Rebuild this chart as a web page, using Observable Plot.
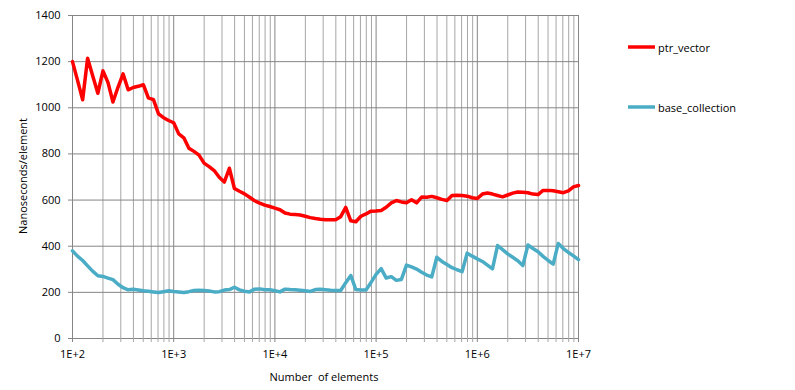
<!DOCTYPE html>
<html>
<head>
<meta charset="utf-8">
<script src="https://cdn.jsdelivr.net/npm/d3@7"></script>
<script src="https://cdn.jsdelivr.net/npm/@observablehq/plot@0.6"></script>
<style>
  html, body { margin: 0; padding: 0; background: #fff; }
  #chart { width: 795px; height: 390px; }
</style>
</head>
<body>
<div id="chart"></div>
<script>
// Number of elements (x values, log spaced)
const sizes = [
  100,112,126,141,158,178,200,224,251,282,316,355,398,447,501,562,631,708,794,891,
  1000,1122,1259,1413,1585,1778,1995,2239,2512,2818,3162,3548,3981,4467,5012,5623,6310,7079,7943,8913,
  10000,11220,12589,14125,15849,17783,19953,22387,25119,28184,31623,35481,39811,44668,50119,56234,63096,70795,79433,89125,
  100000,112202,125893,141254,158489,177828,199526,223872,251189,281838,316228,354813,398107,446684,501187,562341,630957,707946,794328,891251,
  1000000,1122018,1258925,1412538,1584893,1778279,1995262,2238721,2511886,2818383,3162278,3548134,3981072,4466836,5011872,5623413,6309573,7079458,7943282,8912509,
  10000000
];

const ptrVector = [
  1200,1120,1035,1215,1140,1063,1160,1110,1025,1090,1147,1078,1088,1093,1100,1043,1035,974,957,945,
  935,887,870,825,811,795,760,745,728,699,678,738,650,638,627,612,597,587,578,572,
  565,558,544,539,537,535,530,524,520,517,515,515,515,528,568,510,506,530,540,552,
  553,555,569,588,598,592,588,601,588,613,612,616,610,603,598,620,621,620,617,610,
  607,626,631,626,620,614,622,630,635,634,632,626,624,642,642,640,636,632,640,657,
  663
];

const baseCollection = [
  380,357,338,315,292,272,269,262,255,235,220,211,213,210,207,205,202,199,203,207,
  204,202,199,203,208,209,208,206,202,203,210,212,222,211,205,202,214,215,211,211,
  207,202,214,212,211,209,207,204,212,213,211,209,208,208,242,273,212,210,210,243,
  278,303,262,268,252,256,318,310,301,287,275,267,352,334,321,307,298,290,370,357,
  345,334,318,302,403,385,367,352,337,316,405,390,376,356,338,322,412,390,373,358,
  342
];

const seriesNames = ["ptr_vector", "base_collection"];
const seriesColors = ["#FF0000", "#4BACC6"];

const yTicks = [0, 200, 400, 600, 800, 1000, 1200, 1400];
const decades = [100, 1000, 10000, 100000, 1000000, 10000000];
const decadeLabels = ["1E+2", "1E+3", "1E+4", "1E+5", "1E+6", "1E+7"];
const minorMultipliers = [2, 3, 4, 5, 6, 7, 8, 9];

const xLabel = "Number  of elements";
const yLabel = "Nanoseconds/element";

const minorTicks = decades.slice(0, -1).flatMap(d => minorMultipliers.map(m => d * m));

const data = [
  ...sizes.map((n, i) => ({n, v: ptrVector[i], s: seriesNames[0]})),
  ...sizes.map((n, i) => ({n, v: baseCollection[i], s: seriesNames[1]}))
];

const font = "'Open Sans', 'Noto Sans', sans-serif";

const plot = Plot.plot({
  width: 795,
  height: 390,
  marginLeft: 72,
  marginRight: 217,
  marginTop: 15,
  marginBottom: 52,
  style: {fontFamily: font, fontSize: "11px", color: "#000", background: "#fff"},
  x: {type: "log", domain: [100, 10000000]},
  y: {domain: [0, 1400]},
  color: {domain: seriesNames, range: seriesColors},
  marks: [
    Plot.ruleX(minorTicks, {stroke: "#a6a6a6", strokeWidth: 1}),
    Plot.ruleX(decades, {stroke: "#858585", strokeWidth: 1}),
    Plot.ruleY(yTicks, {stroke: "#858585", strokeWidth: 1}),
    Plot.axisY({ticks: yTicks, tickSize: 4, tickPadding: 8, stroke: "#858585", label: null, tickFormat: d => String(d), fontSize: 11}),
    Plot.axisX({ticks: minorTicks, tickSize: 4, stroke: "#a6a6a6", text: null, label: null}),
    Plot.axisX({ticks: decades, tickSize: 4, tickPadding: 8, stroke: "#858585", label: null,
      tickFormat: d => decadeLabels[decades.indexOf(d)], fontSize: 11}),
    Plot.line(data, {x: "n", y: "v", z: "s", stroke: "s", strokeWidth: 3.5, strokeLinejoin: "round", strokeLinecap: "round"})
  ]
});

document.getElementById("chart").appendChild(plot);

// Axis titles and legend drawn into the same SVG
const svg = d3.select(plot);
svg.append("text")
  .attr("transform", "translate(22,176) rotate(-90)")
  .attr("text-anchor", "middle")
  .attr("dominant-baseline", "central")
  .style("font-family", font).style("font-size", "11px").attr("fill", "#000")
  .text(yLabel);
svg.append("text")
  .attr("x", 324).attr("y", 376)
  .attr("text-anchor", "middle")
  .attr("dominant-baseline", "central")
  .attr("xml:space", "preserve")
  .style("white-space", "pre")
  .style("font-family", font).style("font-size", "11px").attr("fill", "#000")
  .text(xLabel);

const legendY = [47, 107];
seriesNames.forEach((name, i) => {
  const g = svg.append("g");
  g.append("line").attr("x1", 628).attr("x2", 655).attr("y1", legendY[i]).attr("y2", legendY[i])
    .attr("stroke", seriesColors[i]).attr("stroke-width", 3.5);
  g.append("text").attr("x", 658).attr("y", legendY[i])
    .attr("text-anchor", "start")
    .attr("dominant-baseline", "central")
    .style("font-family", font).style("font-size", "11px").attr("fill", "#000")
    .text(name);
});
</script>
</body>
</html>
